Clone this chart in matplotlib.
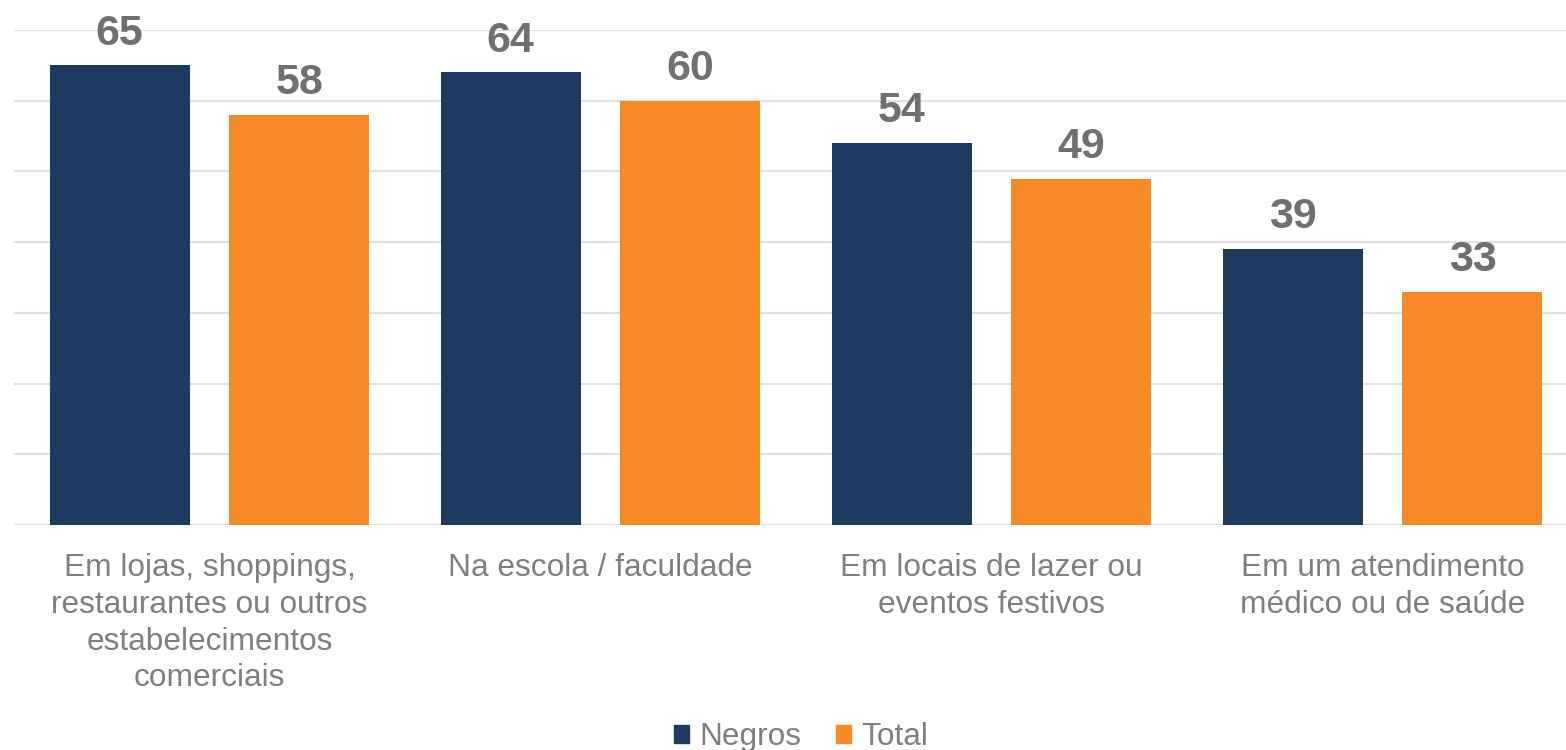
import matplotlib
matplotlib.use("Agg")
import matplotlib.pyplot as plt
import numpy as np
from matplotlib.patches import Patch

categories = ["Em lojas, shoppings,\nrestaurantes ou outros\nestabelecimentos\ncomerciais",
              "Na escola / faculdade",
              "Em locais de lazer ou\neventos festivos",
              "Em um atendimento\nmédico ou de saúde"]
series_names = ["Negros", "Total"]
negros = [65, 64, 54, 39]
total = [58, 60, 49, 33]

colors = ["#1e3a60", "#f58a27"]
plt.rcParams['font.family'] = ['Liberation Sans', 'DejaVu Sans']

fig = plt.figure(figsize=(15.66, 7.5), dpi=100)
W, H = 1566, 750
left, right, top, bottom = 14, 1578, 30, 525
ax = fig.add_axes([left / W, 1 - bottom / H, (right - left) / W, (bottom - top) / H])

x = np.arange(len(categories))
bw = 0.358
off = 0.23
for vals, o, c in [(negros, -off, colors[0]), (total, off, colors[1])]:
    bars = ax.bar(x + o, vals, width=bw, color=c, zorder=3)
    for b, v in zip(bars, vals):
        ax.annotate(str(v), (b.get_x() + b.get_width() / 2, v), xytext=(0, 15),
                    textcoords="offset points", ha="center", va="baseline",
                    fontsize=31, fontweight="bold", color="#707070")

ax.set_xlim(-0.5, len(categories) - 0.5)
ax.set_ylim(0, 70)
ax.set_yticks(np.arange(0, 71, 10))
ax.yaxis.grid(True, color="#e0e0e0", linewidth=1.5, zorder=0)
ax.tick_params(axis="y", left=False, labelleft=False)
ax.tick_params(axis="x", bottom=False, pad=17)
ax.set_xticks(x)
ax.set_xticklabels(categories, fontsize=22.8, color="#7f7f7f", linespacing=1.29, va="top")
for s in ax.spines.values():
    s.set_visible(False)

handles = [Patch(color=colors[0]), Patch(color=colors[1])]
fig.legend(handles, series_names, loc="center", bbox_to_anchor=(801 / W, 1 - 737 / H), ncol=2,
           frameon=False, fontsize=22.7, labelcolor="#7f7f7f", handlelength=0.5,
           handleheight=0.5, handletextpad=0.32, columnspacing=1.08)

fig.savefig("out.png", dpi=100)
